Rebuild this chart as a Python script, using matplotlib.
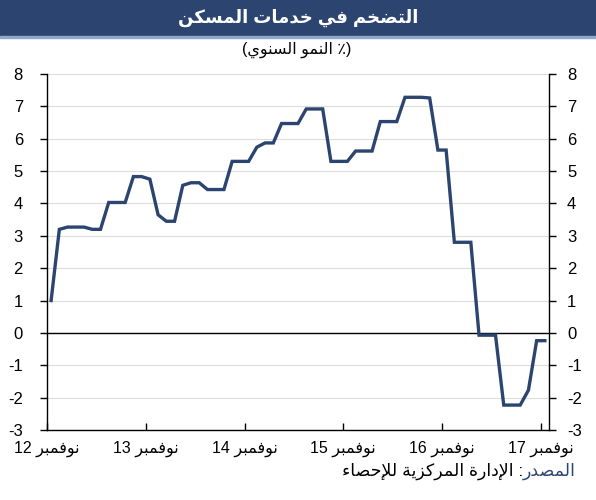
import re

import matplotlib
matplotlib.use("Agg")
import matplotlib.pyplot as plt
import numpy as np
from matplotlib.patches import Rectangle

plt.rcParams["font.family"] = ["Liberation Sans", "DejaVu Sans"]
plt.rcParams["axes.unicode_minus"] = False

# monthly values, Nov 2012 .. Nov 2017
values = [1.0, 3.2, 3.27, 3.27, 3.27, 3.2, 3.2, 4.03, 4.03, 4.03,
          4.83, 4.83, 4.75, 3.65, 3.45, 3.45, 4.56, 4.64, 4.64, 4.43,
          4.43, 4.43, 5.3, 5.3, 5.3, 5.74, 5.87, 5.87, 6.47, 6.47,
          6.47, 6.92, 6.92, 6.92, 5.3, 5.3, 5.3, 5.62, 5.62, 5.62,
          6.53, 6.53, 6.53, 7.28, 7.28, 7.28, 7.26, 5.65, 5.65, 2.8,
          2.8, 2.8, -0.07, -0.07, -0.07, -2.23, -2.23, -2.23, -1.77, -0.24,
          -0.24]
years = ["12", "13", "14", "15", "16", "17"]
month_word = "نوفمبر"
title = "التضخم في خدمات المسكن"
subtitle = "النمو السنوي"
source_head = "المصدر"
source_body = "الإدارة المركزية للإحصاء"

# --- tiny Arabic shaper (presentation forms + visual order) ---
FORMS = {
    "ء": "\uFE80", "آ": "\uFE81\uFE82", "أ": "\uFE83\uFE84", "ؤ": "\uFE85\uFE86",
    "إ": "\uFE87\uFE88", "ئ": "\uFE89\uFE8A\uFE8B\uFE8C", "ا": "\uFE8D\uFE8E",
    "ب": "\uFE8F\uFE90\uFE91\uFE92", "ة": "\uFE93\uFE94", "ت": "\uFE95\uFE96\uFE97\uFE98",
    "ث": "\uFE99\uFE9A\uFE9B\uFE9C", "ج": "\uFE9D\uFE9E\uFE9F\uFEA0",
    "ح": "\uFEA1\uFEA2\uFEA3\uFEA4", "خ": "\uFEA5\uFEA6\uFEA7\uFEA8",
    "د": "\uFEA9\uFEAA", "ذ": "\uFEAB\uFEAC", "ر": "\uFEAD\uFEAE", "ز": "\uFEAF\uFEB0",
    "س": "\uFEB1\uFEB2\uFEB3\uFEB4", "ش": "\uFEB5\uFEB6\uFEB7\uFEB8",
    "ص": "\uFEB9\uFEBA\uFEBB\uFEBC", "ض": "\uFEBD\uFEBE\uFEBF\uFEC0",
    "ط": "\uFEC1\uFEC2\uFEC3\uFEC4", "ظ": "\uFEC5\uFEC6\uFEC7\uFEC8",
    "ع": "\uFEC9\uFECA\uFECB\uFECC", "غ": "\uFECD\uFECE\uFECF\uFED0",
    "ف": "\uFED1\uFED2\uFED3\uFED4", "ق": "\uFED5\uFED6\uFED7\uFED8",
    "ك": "\uFED9\uFEDA\uFEDB\uFEDC", "ل": "\uFEDD\uFEDE\uFEDF\uFEE0",
    "م": "\uFEE1\uFEE2\uFEE3\uFEE4", "ن": "\uFEE5\uFEE6\uFEE7\uFEE8",
    "ه": "\uFEE9\uFEEA\uFEEB\uFEEC", "و": "\uFEED\uFEEE", "ى": "\uFEEF\uFEF0",
    "ي": "\uFEF1\uFEF2\uFEF3\uFEF4",
}
LAMALEF = {"آ": "\uFEF5\uFEF6", "أ": "\uFEF7\uFEF8", "إ": "\uFEF9\uFEFA", "ا": "\uFEFB\uFEFC"}


def shape(text):
    items = []
    i = 0
    while i < len(text):
        c = text[i]
        if c == "ل" and i + 1 < len(text) and text[i + 1] in LAMALEF:
            items.append((LAMALEF[text[i + 1]], "R"))
            i += 2
            continue
        f = FORMS.get(c, c)
        kind = {4: "D", 2: "R"}.get(len(f), "U") if c in FORMS else "U"
        items.append((f, kind))
        i += 1
    out = []
    for k, (f, kind) in enumerate(items):
        prev = k > 0 and items[k - 1][1] == "D" and kind in "DR"
        nxt = k + 1 < len(items) and kind == "D" and items[k + 1][1] in "DR"
        if kind == "D":
            idx = 3 if prev and nxt else 1 if prev else 2 if nxt else 0
        elif kind == "R":
            idx = 1 if prev else 0
        else:
            idx = 0
        out.append(f[idx])
    return "".join(out)


def ar(text):
    # right-to-left visual order, digit runs kept left-to-right
    tokens = re.findall(r"[0-9]+|.", shape(text))
    return "".join(reversed(tokens))


navy = "#2C4470"

fig = plt.figure(figsize=(5.96, 5.0), dpi=100)
ax = fig.add_axes([47 / 596, 0.14, (549 - 47) / 596, 0.852 - 0.14])

x = np.arange(len(values)) + 0.5
ax.plot(x, values, color=navy, lw=2.4, solid_joinstyle="miter", zorder=3)
ax.axhline(0, color="black", lw=1.0, zorder=2)

ax.set_ylim(-3, 8)
ax.set_xlim(0, 61)
ax.set_yticks(range(-3, 9))
ax.yaxis.grid(True, color="#dcdcdc", lw=0.8)
ax.set_axisbelow(True)

ax.set_xticks(range(0, 61, 12))
ax.set_xticklabels([ar(month_word + " " + y) for y in years])
ax.tick_params(axis="x", direction="in", length=5, pad=8, labelsize=11.5, width=1)
ax.tick_params(axis="y", direction="out", length=5, width=1, labelsize=12, pad=8,
               left=True, right=True, labelleft=True, labelright=True)
for t in ax.yaxis.get_major_ticks():
    t.label1.set_x(-0.012)
ax.spines["top"].set_visible(False)
for s in ("left", "right", "bottom"):
    ax.spines[s].set_linewidth(1.0)
    ax.spines[s].set_color("black")

# header bar
fig.patches.append(Rectangle((0, 1 - 36 / 500), 1, 36 / 500, transform=fig.transFigure,
                             color=navy, zorder=0))
fig.patches.append(Rectangle((0, 1 - 38 / 500), 1, 2 / 500, transform=fig.transFigure,
                             color="#8FA7CC", zorder=0))
fig.text(0.5, 1 - 18 / 500, ar(title), color="white", fontsize=13, fontweight="bold",
         ha="center", va="center")
fig.text(0.497, 1 - 50 / 500, "(" + ar(subtitle) + " ٪)", fontsize=11.5,
         ha="center", va="center")

# source line
head = fig.text(576 / 596, 1 - 471 / 500, ar(source_head), color=navy, fontsize=12.5,
                ha="right", va="center")
ax.annotate(ar(source_body) + " :", xy=(0, 0.5), xycoords=head, fontsize=12.5,
            ha="right", va="center", color="black")

fig.savefig("out.png", dpi=100)
